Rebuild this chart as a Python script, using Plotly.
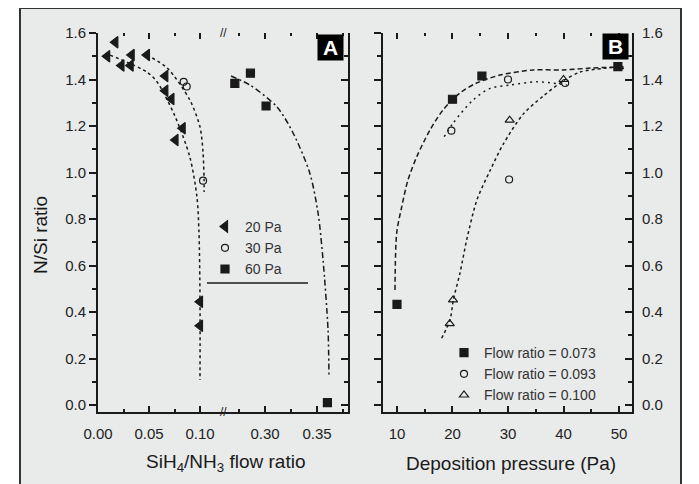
import plotly.graph_objects as go

W, H = 699, 484
PAGE_OFFSET = 8  # the page body margin shifts the figure by this many pixels

# ---------------- data ----------------
# Panel A : N/Si ratio vs SiH4/NH3 flow ratio
a20_x = [0.017, 0.009, 0.033, 0.023, 0.032, 0.048, 0.066, 0.066, 0.072, 0.083, 0.076, 0.100, 0.100]
a20_y = [1.56, 1.50, 1.505, 1.46, 1.46, 1.505, 1.415, 1.352, 1.316, 1.19, 1.14, 0.444, 0.341]
a30_x = [0.084, 0.087, 0.103]
a30_y = [1.39, 1.37, 0.965]
a60_x = [0.271, 0.286, 0.301, 0.360]
a60_y = [1.383, 1.427, 1.286, 0.01]

fit20_x = [0.0118, 0.048, 0.058, 0.075, 0.090, 0.097, 0.099, 0.100, 0.100]
fit20_y = [1.505, 1.432, 1.389, 1.247, 1.067, 0.895, 0.740, 0.452, 0.108]
fit30_x = [0.048, 0.068, 0.090, 0.100, 0.103, 0.104, 0.104]
fit30_y = [1.505, 1.449, 1.312, 1.196, 1.084, 0.968, 0.916]
fit60_x = [0.2673, 0.2856, 0.3115, 0.327, 0.343, 0.351, 0.3558, 0.3606, 0.3615]
fit60_y = [1.415, 1.376, 1.282, 1.170, 0.998, 0.826, 0.624, 0.323, 0.12]

a_names = ["20 Pa", "30 Pa", "60 Pa"]

# Panel B : N/Si ratio vs deposition pressure
b073_x = [10.0, 20.0, 25.3, 49.8]
b073_y = [0.433, 1.315, 1.415, 1.455]
b093_x = [19.8, 30.0, 30.2, 40.3]
b093_y = [1.18, 1.40, 0.97, 1.385]
b100_x = [19.5, 20.1, 30.3, 40.0, 50.0]
b100_y = [0.35, 0.452, 1.225, 1.40, 1.455]

fitb073_x = [9.64, 9.95, 10.85, 11.98, 13.55, 15.95, 18.3, 21.35, 24.36, 28.56, 34.5, 39.9, 44.8, 50.2]
fitb073_y = [0.495, 0.740, 0.852, 0.968, 1.067, 1.183, 1.269, 1.342, 1.385, 1.419, 1.441, 1.441, 1.449, 1.454]
fitb093_x = [18.5, 20.1, 23.7, 26.8, 30.4, 35.2, 40.6]
fitb093_y = [1.154, 1.212, 1.312, 1.362, 1.376, 1.39, 1.376]
fitb100_x = [18.05, 19.55, 20.15, 21.35, 22.56, 24.4, 26.8, 29.1, 32.7, 36.4, 40.0, 43.0, 47.2, 50.8]
fitb100_y = [0.287, 0.366, 0.452, 0.568, 0.710, 0.882, 1.01, 1.12, 1.25, 1.33, 1.395, 1.432, 1.448, 1.455]

b_names = ["Flow ratio = 0.073", "Flow ratio = 0.093", "Flow ratio = 0.100"]

# ---------------- styling ----------------
FONT = "Liberation Sans, Arial, sans-serif"
INK = "#1a1a1a"
BG = "#e9eaea"

def px(v):
    return (v - PAGE_OFFSET) / W

def py(v):
    return 1 - (v - PAGE_OFFSET) / H

fig = go.Figure()

def fit(x, y, xa, ya, dash, width=1.5):
    fig.add_trace(go.Scatter(x=x, y=y, xaxis=xa, yaxis=ya, mode="lines",
                             line=dict(color=INK, width=width, dash=dash, shape="spline", smoothing=0.8),
                             showlegend=False, hoverinfo="skip"))

fit(fit20_x, fit20_y, "x", "y", "dot")
fit(fit30_x, fit30_y, "x", "y", "3px,3px")
fit(fit60_x, fit60_y, "x2", "y2", "6px,3px,2px,3px")
fit(fitb073_x, fitb073_y, "x3", "y3", "5px,3px")
fit(fitb093_x, fitb093_y, "x3", "y3", "2px,4px")
fit(fitb100_x, fitb100_y, "x3", "y3", "dot")

def pts(x, y, xa, ya, name, symbol, size, legend):
    fig.add_trace(go.Scatter(x=x, y=y, xaxis=xa, yaxis=ya, mode="markers", name=name,
                             marker=dict(symbol=symbol, size=size, color=INK,
                                         line=dict(color=INK, width=1.2)),
                             legend=legend))

pts(a20_x, a20_y, "x", "y", a_names[0], "triangle-left", 10, "legend")
pts(a30_x, a30_y, "x", "y", a_names[1], "circle-open", 7, "legend")
pts(a60_x, a60_y, "x2", "y2", a_names[2], "square", 8, "legend")
pts(b073_x, b073_y, "x3", "y3", b_names[0], "square", 8, "legend2")
pts(b093_x, b093_y, "x3", "y3", b_names[1], "circle-open", 7, "legend2")
pts(b100_x, b100_y, "x3", "y3", b_names[2], "triangle-up-open", 8, "legend2")

# empty traces so that the extra frame/tick axes get drawn
for xa, ya in [("x4", "y"), ("x5", "y2"), ("x6", "y3"), ("x2", "y4"), ("x3", "y5")]:
    fig.add_trace(go.Scatter(x=[], y=[], xaxis=xa, yaxis=ya, mode="markers",
                             showlegend=False, hoverinfo="skip"))

YR = [-0.0301, 1.6]
YD = [py(412), py(33)]
XA1 = [0, 0.12157]
XA2 = [0.25865, 0.3798]
XB = [7.48, 52.34]

tickfont = dict(family=FONT, size=15, color="#222")
base = dict(showgrid=False, zeroline=False, linecolor=INK, linewidth=2,
            tickcolor=INK, tickwidth=1.5, tickfont=tickfont, automargin=False)

def xax(domain, rng, anchor, dtick, minor, fmt, **kw):
    d = dict(base, domain=domain, range=rng, anchor=anchor, dtick=dtick, tick0=0,
             tickformat=fmt, ticks="inside", ticklen=6,
             minor=dict(dtick=minor, tick0=0, ticks="inside", ticklen=3, tickcolor=INK, tickwidth=1.5),
             showline=True, ticklabelstandoff=7)
    d.update(kw)
    return d

def yax(anchor, side, ticks, labels, **kw):
    d = dict(base, domain=YD, range=YR, anchor=anchor, side=side, dtick=0.2, tick0=0,
             tickformat=".1f", ticks=ticks, ticklen=7, showticklabels=labels,
             minor=dict(dtick=0.1, tick0=0, ticks=ticks, ticklen=4, tickcolor=INK, tickwidth=1.5),
             showline=True)
    d.update(kw)
    return d

fig.update_layout(
    xaxis=xax([px(98), px(222)], XA1, "y", 0.05, 0.025, ".2f"),
    xaxis2=xax([px(222), px(348)], XA2, "y2", 0.05, 0.025, ".2f"),
    xaxis3=xax([px(383), px(632)], XB, "y3", 10, 5, "d"),
    xaxis4=xax([px(98), px(222)], XA1, "y", 0.05, 0.025, ".2f", overlaying="x", side="top",
               showline=False, showticklabels=False),
    xaxis5=xax([px(222), px(348)], XA2, "y2", 0.05, 0.025, ".2f", overlaying="x2", side="top",
               showline=False, showticklabels=False),
    xaxis6=xax([px(383), px(632)], XB, "y3", 10, 5, "d", overlaying="x3", side="top",
               showline=False, showticklabels=False),
    yaxis=yax("x", "left", "outside", True),
    yaxis2=yax("x2", "left", "", False, showline=False),
    yaxis3=yax("x3", "right", "inside", True, ticklabelstandoff=5),
    yaxis4=yax("x2", "right", "inside", False, overlaying="y2"),
    yaxis5=yax("x3", "left", "outside", False, overlaying="y3"),
)

fig.update_layout(
    width=W, height=H, autosize=False,
    margin=dict(l=0, r=0, t=0, b=0, pad=0, autoexpand=False),
    paper_bgcolor="white", plot_bgcolor="rgba(0,0,0,0)",
    font=dict(family=FONT, color="#222"),
    legend=dict(x=px(205), y=py(211), xanchor="left", yanchor="top", bgcolor="rgba(0,0,0,0)",
                font=dict(family=FONT, size=14, color="#333"), tracegroupgap=0, itemwidth=30),
    legend2=dict(x=px(444), y=py(337), xanchor="left", yanchor="top", bgcolor="rgba(0,0,0,0)",
                 font=dict(family=FONT, size=14, color="#333"), tracegroupgap=0, itemwidth=30),
    shapes=[
        dict(type="rect", xref="paper", yref="paper", x0=px(20), x1=px(681), y0=-0.05, y1=py(8),
             fillcolor=BG, line=dict(color="#333", width=2), layer="below"),
        dict(type="line", xref="paper", yref="paper", x0=px(207), x1=px(308), y0=py(283), y1=py(283),
             line=dict(color=INK, width=1.5)),
    ],
    annotations=[
        dict(text="<b>A</b>", xref="paper", yref="paper", x=px(330.5), y=py(47.5), showarrow=False,
             xanchor="center", yanchor="middle", bgcolor="black", width=23, height=23, borderpad=1,
             font=dict(family=FONT, size=21, color="white")),
        dict(text="<b>B</b>", xref="paper", yref="paper", x=px(615), y=py(46.5), showarrow=False,
             xanchor="center", yanchor="middle", bgcolor="black", width=23, height=23, borderpad=1,
             font=dict(family=FONT, size=21, color="white")),
        dict(text="//", xref="paper", yref="paper", x=px(223), y=py(33), showarrow=False,
             xanchor="center", yanchor="middle", font=dict(family=FONT, size=12, color=INK)),
        dict(text="//", xref="paper", yref="paper", x=px(223), y=py(412), showarrow=False,
             xanchor="center", yanchor="middle", font=dict(family=FONT, size=12, color=INK)),
        dict(text="N/Si ratio", xref="paper", yref="paper", x=px(40), y=py(235), showarrow=False,
             textangle=-90, xanchor="center", yanchor="middle", font=dict(family=FONT, size=19, color="#1a1a1a")),
        dict(text="SiH<sub>4</sub>/NH<sub>3</sub> flow ratio", xref="paper", yref="paper", x=px(225), y=py(463),
             showarrow=False, xanchor="center", yanchor="middle", font=dict(family=FONT, size=19, color="#1a1a1a")),
        dict(text="Deposition pressure (Pa)", xref="paper", yref="paper", x=px(511), y=py(463),
             showarrow=False, xanchor="center", yanchor="middle", font=dict(family=FONT, size=19, color="#1a1a1a")),
    ],
)

fig.write_html("out.html")
